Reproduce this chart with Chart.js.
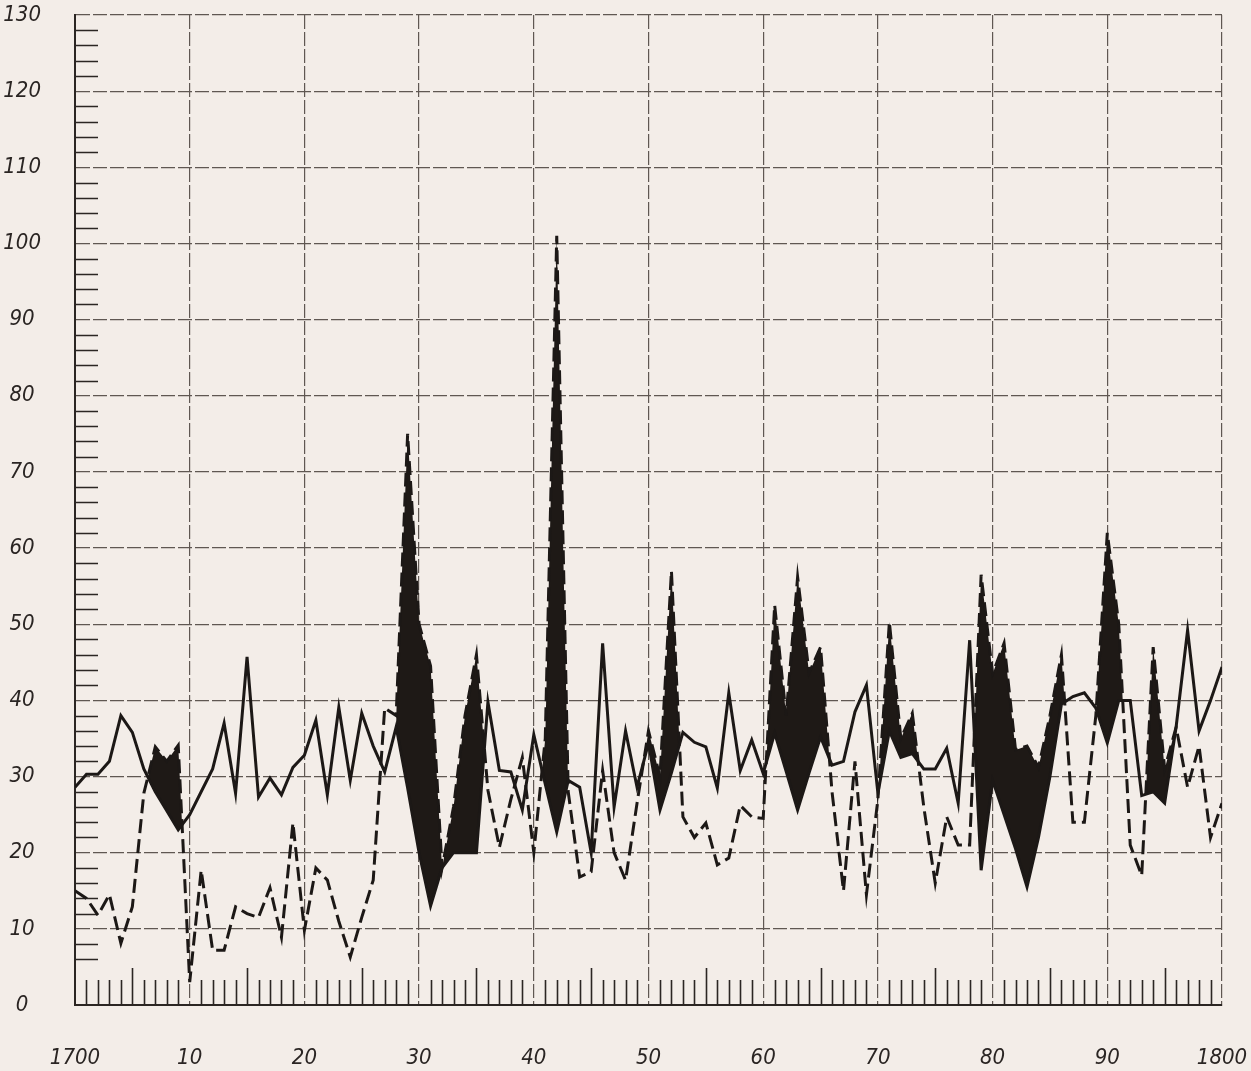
<!DOCTYPE html>
<html>
<head>
<meta charset="utf-8">
<title>1700 - 1800</title>
<script src="https://cdn.jsdelivr.net/npm/chart.js@4.4.1/dist/chart.umd.min.js"></script>
<style>
  html, body { margin: 0; padding: 0; background: #f3ede8; }
  #wrap { width: 1251px; height: 1071px; position: relative; }
</style>
</head>
<body>
<div id="wrap"><canvas id="chart"></canvas></div>
<script>
// Années 1700-1800
const firstYear = 1700;
const years = Array.from({ length: 101 }, (_, i) => firstYear + i);

// Courbe en trait plein
const solidSeries = [
  28.6, 30.3, 30.3, 32, 38, 35.8, 31, 28, 25.5, 23,      // 1700-1709
  25, 28, 31, 37, 27.8, 45.7, 27.3, 29.8, 27.6, 31.2,    // 1710-1719
  32.8, 37.4, 27.6, 39.1, 29.5, 38.3, 34, 30.6, 36.5, 28.5, // 1720-1729
  20, 13, 18, 20, 20, 20, 39.8, 30.8, 30.6, 25.6,        // 1730-1739
  35.5, 29, 22.7, 29.5, 28.6, 20, 47.5, 26, 36, 28.6,    // 1740-1749
  34.4, 25.6, 30.5, 35.8, 34.5, 33.9, 28.5, 41, 30.8, 34.8, // 1750-1759
  30.4, 35.7, 30.7, 25.6, 30.5, 35.2, 31.5, 32, 38.5, 42, // 1760-1769
  27.8, 36, 32.5, 33, 31, 31, 33.7, 26.5, 47.9, 17.7,    // 1770-1779
  29.5, 25, 20.5, 15.5, 22, 30, 39.5, 40.5, 41, 39,      // 1780-1789
  34.4, 40, 40, 27.5, 28, 26.5, 36.5, 49.2, 36, 40,      // 1790-1799
  44.4                                                   // 1800
];

// Courbe en tirets
const dashedSeries = [
  15, 14, 11.8, 14.5, 8.1, 12.9, 27.8, 33.9, 32, 34.1,   // 1700-1709
  3, 17.7, 7.2, 7.2, 12.9, 12, 11.5, 15.4, 8.9, 23.9,    // 1710-1719
  9.8, 18, 16.4, 11, 6.3, 11.5, 16.4, 39, 38, 75,        // 1720-1729
  50, 44.5, 18, 26, 38, 46, 28.2, 20.7, 27, 32.5,        // 1730-1739
  20, 35, 101, 28, 16.8, 17.5, 30.8, 20, 16.4, 26.5,     // 1740-1749
  36, 30, 57, 24.7, 22, 23.9, 18.4, 19.3, 26.2, 24.7,    // 1750-1759
  24.5, 52.5, 38, 56.2, 43.6, 47, 28, 15, 32, 14.5,      // 1760-1769
  27, 50.3, 35, 38.3, 26, 16, 24.7, 21, 21, 56.5,        // 1770-1779
  43.5, 47.5, 33.5, 34, 31.2, 38, 46, 24, 24, 38,        // 1780-1789
  62, 50, 21, 17, 47, 31, 36.5, 28.6, 34, 22,            // 1790-1799
  26.5                                                   // 1800
];

// Périodes noircies (tirets au-dessus du trait plein)
const shadedSpans = [
  [1706, 1710], [1728, 1736], [1740, 1743], [1749, 1753],
  [1760, 1766], [1770, 1774], [1778, 1787], [1789, 1797]
];

// Graduations
const xTickLabels = ['1700', '10', '20', '30', '40', '50', '60', '70', '80', '90', '1800'];
const yTickLabels = ['0', '10', '20', '30', '40', '50', '60', '70', '80', '90', '100', '110', '120', '130'];

const ink = '#1c1816';
const labelFont = { family: "'Liberation Sans Narrow', 'DejaVu Sans Condensed', 'Liberation Sans', sans-serif", size: 22, style: 'italic' };

const inShade = yr => shadedSpans.some(([a, b]) => yr >= a && yr <= b);
const solidPoints = years.map((yr, i) => ({ x: yr, y: solidSeries[i] }));
const dashedPoints = years.map((yr, i) => ({ x: yr, y: dashedSeries[i] }));
const shadePoints = years.map((yr, i) => ({ x: yr, y: inShade(yr) ? dashedSeries[i] : null }));

// Petites graduations intérieures
const minorTicks = {
  id: 'minorTicks',
  beforeDatasetsDraw(chart) {
    const { ctx, chartArea: a, scales: { x, y } } = chart;
    ctx.save();
    ctx.strokeStyle = '#2b2623';
    ctx.lineWidth = 1.6;
    ctx.beginPath();
    for (let v = 6; v < 130; v += 2) {
      if (v % 10 === 0) continue;
      const py = Math.round(y.getPixelForValue(v)) + 0.5;
      ctx.moveTo(a.left, py);
      ctx.lineTo(a.left + 23, py);
    }
    for (let yr = 1701; yr < 1800; yr++) {
      if (yr % 10 === 0) continue;
      const px = Math.round(x.getPixelForValue(yr)) + 0.5;
      ctx.moveTo(px, a.bottom);
      ctx.lineTo(px, a.bottom - (yr % 5 === 0 ? 37 : 25));
    }
    ctx.stroke();
    ctx.restore();
  }
};

const ctx = document.getElementById('chart').getContext('2d');
const chart = new Chart(ctx, {
  type: 'line',
  data: {
    datasets: [
      {
        label: 'trait plein',
        data: solidPoints,
        borderColor: ink,
        borderWidth: 3,
        pointRadius: 0,
        tension: 0,
        fill: false,
        order: 1
      },
      {
        label: 'tirets',
        data: dashedPoints,
        borderColor: ink,
        borderWidth: 3,
        borderDash: [14, 6],
        pointRadius: 0,
        tension: 0,
        fill: false,
        order: 2
      },
      {
        label: 'zone',
        data: shadePoints,
        borderWidth: 0,
        borderColor: 'rgba(0,0,0,0)',
        pointRadius: 0,
        tension: 0,
        spanGaps: false,
        fill: { target: 0, above: '#1e1916', below: 'rgba(0,0,0,0)' },
        order: 3
      }
    ]
  },
  options: {
    responsive: true,
    maintainAspectRatio: false,
    animation: false,
    layout: { padding: { top: 15, right: 29, left: 0, bottom: 0 } },
    plugins: {
      legend: { display: false },
      tooltip: { enabled: false }
    },
    scales: {
      x: {
        type: 'linear',
        min: 1700,
        max: 1800,
        afterFit: s => { s.height = 66; s.paddingLeft = 0; s.paddingRight = 0; },
        ticks: {
          stepSize: 10,
          padding: 40,
          color: '#2a2523',
          font: labelFont,
          maxRotation: 0,
          callback: v => xTickLabels[Math.round((v - 1700) / 10)]
        },
        grid: { color: '#5f5752', lineWidth: 1.2, drawTicks: false },
        border: { color: '#2b2623', width: 2, dash: [14, 3] }
      },
      y: {
        min: 0,
        max: 130,
        afterFit: s => { s.width = 75; s.paddingTop = 0; s.paddingBottom = 0; },
        ticks: {
          stepSize: 10,
          padding: 34,
          crossAlign: 'center',
          color: '#2a2523',
          font: labelFont,
          callback: v => yTickLabels[Math.round(v / 10)]
        },
        grid: { color: '#5f5752', lineWidth: 1.2, drawTicks: false },
        border: { color: '#2b2623', width: 2, dash: [14, 3] }
      }
    }
  },
  plugins: [minorTicks]
});
</script>
</body>
</html>
